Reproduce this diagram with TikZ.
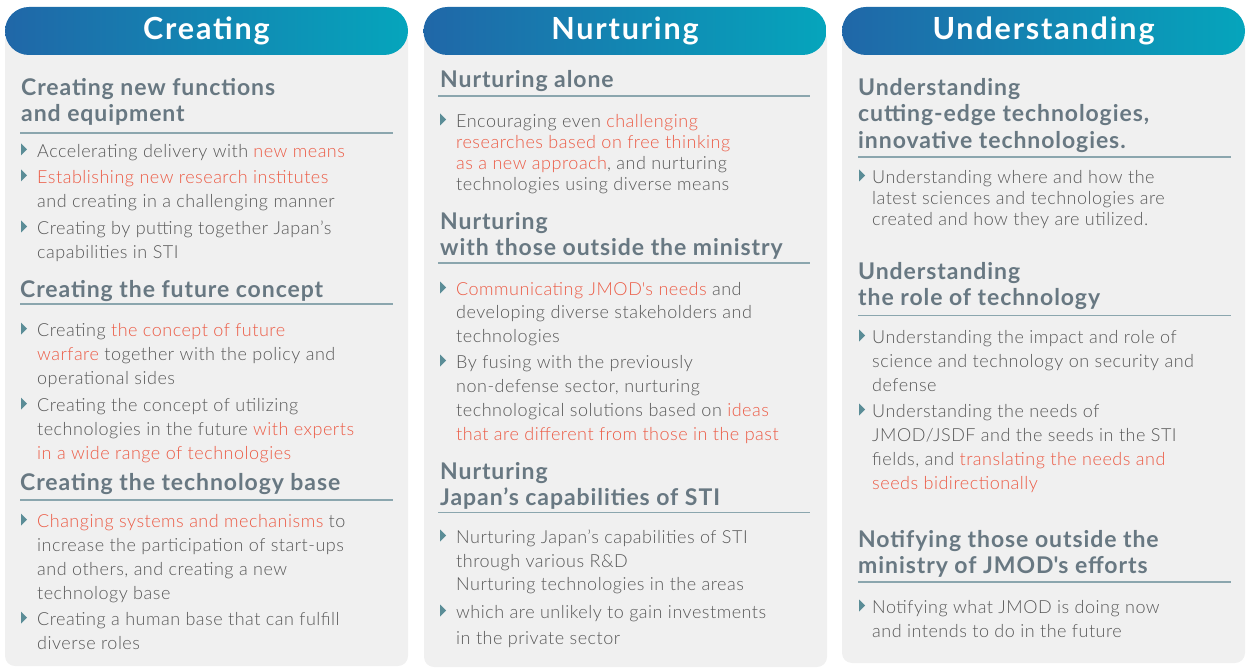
\documentclass[tikz,border=0pt]{standalone}
\usepackage{fontspec}
\IfFontExistsTF{Lato Light}{\setmainfont{Lato Light}[BoldFont={Lato Bold}]}{\setmainfont{Lato}}
\usetikzlibrary{calc}

\definecolor{pillleft}{HTML}{2067A8}
\definecolor{pillright}{HTML}{05A5BC}
\definecolor{panelgray}{HTML}{F0F0F0}
\definecolor{headgray}{HTML}{687882}
\definecolor{rulecol}{HTML}{8BA6AE}
\definecolor{tricol}{HTML}{5B8D97}
\definecolor{bodygray}{HTML}{585858}
\definecolor{hlred}{HTML}{EC5B45}

\tikzset{pill/.style={rounded corners=24pt, minimum width=403pt, minimum height=48pt, inner sep=0pt,
  left color=pillleft, right color=pillright, text=white,
  font=\bfseries\fontsize{30.5}{36}\selectfont\addfontfeatures{LetterSpace=6}}}
\tikzset{panel/.style={fill=panelgray, rounded corners=10pt}}
\tikzset{sect/.style={anchor=north west, yshift=24pt, align=left, inner sep=0pt, text=headgray,
  execute at begin node={\rule{0pt}{24pt}},
  font=\bfseries\fontsize{23}{26.5}\selectfont\addfontfeatures{LetterSpace=4}}}
\tikzset{itm/.style={anchor=north west, yshift=20pt, align=left, inner sep=0pt, text=bodygray,
  execute at begin node={\rule{0pt}{20pt}},
  font=\fontsize{18}{24}\selectfont\addfontfeatures{LetterSpace=2.8}}}
\tikzset{lines/.style={yshift=-7pt}, slines/.style={yshift=-9pt}}
\tikzset{rule/.style={draw=rulecol, line width=1.2pt}}
\tikzset{bs/.style={font=\fontsize{18}{#1}\selectfont\addfontfeatures{LetterSpace=2.8}}}

\newcommand{\redtxt}[1]{\textcolor{hlred}{#1}}
\newcommand{\trioff}{16}
\newcommand{\bitem}[4][]{%
  \node[itm,#1] (#2) at #3 {#4};
  \fill[tricol] #3 ++(-\trioff,-13.5) -- ++(0,12) -- ++(6,-6) -- cycle;}

\begin{document}
\begin{tikzpicture}[x=1pt, y=-1pt]
  \useasboundingbox (0,0) rectangle (1246,668);

  % panels and headers
  \fill[panel] (5,30) rectangle (408,666);
  \fill[panel] (424,30) rectangle (827,667);
  \fill[panel] (842,30) rectangle (1245,663);
  \node[pill] (hcre) at (206.5,31) {Creating};
  \node[pill] (hnur) at (625,31) {Nurturing};
  \node[pill] (hund) at (1043.5,31) {Understanding};

  % Creating
  \node[sect, slines] (c1s1) at (21,93) {Creating new functions\\and equipment};
  \draw[rule] (20,133) -- (393,133);
  \bitem{c1i1}{(37,157)}{Accelerating delivery with \redtxt{new means}}
  \bitem[lines]{c1i2}{(37,183)}{\redtxt{Establishing new research institutes}\\and creating in a challenging manner}
  \bitem[lines]{c1i3}{(37,234)}{Creating by putting together Japan’s\\capabilities in STI}
  \node[sect] (c1s2) at (20,297) {Creating the future concept};
  \draw[rule] (20,304) -- (393,304);
  \bitem[lines]{c1i4}{(37,336)}{Creating \redtxt{the concept of future}\\\redtxt{warfare} together with the policy and\\operational sides}
  \bitem[lines]{c1i5}{(37,411)}{Creating the concept of utilizing\\technologies in the future \redtxt{with experts}\\\redtxt{in a wide range of technologies}}
  \node[sect] (c1s3) at (20,490) {Creating the technology base};
  \draw[rule] (20,500) -- (393,500);
  \bitem[lines]{c1i6}{(37,527)}{\redtxt{Changing systems and mechanisms} to\\increase the participation of start-ups\\and others, and creating a new\\technology base}
  \bitem[lines]{c1i7}{(37,625)}{Creating a human base that can fulfill\\diverse roles}

  % Nurturing
  \node[sect] (c2s1) at (440,87) {Nurturing alone};
  \draw[rule] (438,96) -- (810,96);
  \bitem[lines, bs=21.2]{c2i1}{(456,127)}{Encouraging even \redtxt{challenging}\\\redtxt{researches based on free thinking}\\\redtxt{as a new approach}, and nurturing\\technologies using diverse means}
  \node[sect, slines] (c2s2) at (440,227) {Nurturing\\with those outside the ministry};
  \draw[rule] (438,263) -- (810,263);
  \bitem[lines, bs=23.5]{c2i2}{(456,295)}{\redtxt{Communicating JMOD\textquotesingle s needs} and\\developing diverse stakeholders and\\technologies}
  \bitem[lines]{c2i3}{(456,368)}{By fusing with the previously\\non-defense sector, nurturing\\technological solutions based on \redtxt{ideas}\\\redtxt{that are different from those in the past}}
  \node[sect, slines] (c2s3) at (440,477) {Nurturing\\Japan’s capabilities of STI};
  \draw[rule] (438,512.5) -- (810,512.5);
  \bitem[lines, bs=23.5]{c2i4}{(456,543)}{Nurturing Japan’s capabilities of STI\\through various R\&D\\Nurturing technologies in the areas}
  \bitem[lines, bs=26]{c2i5}{(456,618)}{which are unlikely to gain investments\\in the private sector}

  % Understanding
  \renewcommand{\trioff}{13}
  \node[sect, slines, font=\bfseries\fontsize{23}{26.7}\selectfont\addfontfeatures{LetterSpace=4}] (c3s1) at (858,93) {Understanding\\cutting-edge technologies,\\innovative technologies.};
  \draw[rule] (858,157) -- (1231,157);
  \bitem[lines, bs=21.2]{c3i1}{(872,183)}{Understanding where and how the\\latest sciences and technologies are\\created and how they are utilized.}
  \node[sect, slines] (c3s2) at (858,277) {Understanding\\the role of technology};
  \draw[rule] (858,315.5) -- (1231,315.5);
  \bitem[lines]{c3i2}{(872,343)}{Understanding the impact and role of\\science and technology on security and\\defense}
  \bitem[lines]{c3i3}{(872,417)}{Understanding the needs of\\JMOD/JSDF and the seeds in the STI\\fields, and \redtxt{translating the needs and}\\\redtxt{seeds bidirectionally}}
  \node[sect, slines] (c3s3) at (858,545) {Notifying those outside the\\ministry of JMOD\textquotesingle s efforts};
  \draw[rule] (858,582) -- (1231,582);
  \bitem[lines]{c3i4}{(872,613)}{Notifying what JMOD is doing now\\and intends to do in the future}
\end{tikzpicture}
\end{document}
